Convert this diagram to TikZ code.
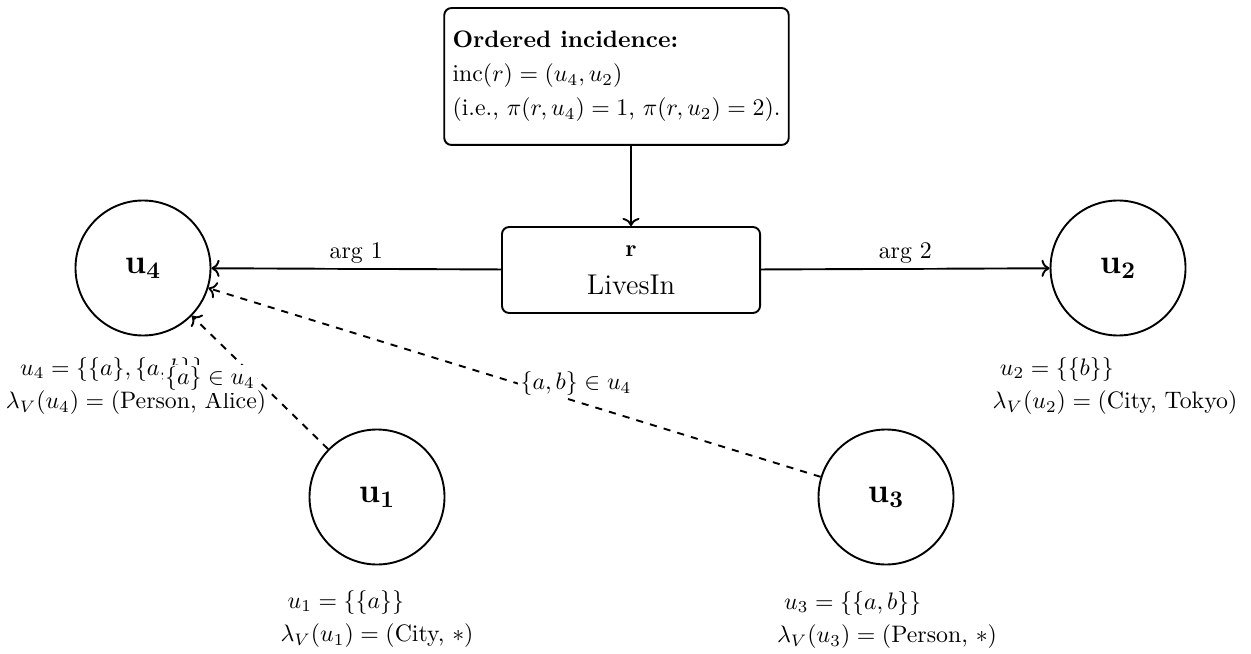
\documentclass[tikz,border=0pt]{standalone}
\usetikzlibrary{arrows.meta}
\begin{document}
\begin{tikzpicture}[x=0.42pt,y=-0.42pt,
  vcirc/.style={circle,draw,thick,minimum size=56.7pt,inner sep=0pt,font=\Large},
  relbox/.style={draw,thick,rounded corners=3pt,minimum width=108.4pt,minimum height=36.1pt,align=center},
  infobox/.style={draw,thick,rounded corners=3pt,minimum width=139.9pt,minimum height=57.5pt,inner xsep=3.5pt,align=left},
  vlbl/.style={align=left,inner sep=0pt},
  elbl/.style={fill=white,inner sep=1pt},
  conn/.style={thick,-{To[length=3.4pt,width=7.2pt]}},
  dconn/.style={thick,dashed,->}]
\useasboundingbox (0,0) rectangle (1251,654);

\node[vcirc] (u4) at (143,268) {$\mathbf{u_4}$};
\node[vcirc] (u2) at (1118,268) {$\mathbf{u_2}$};
\node[vcirc] (u1) at (377,497) {$\mathbf{u_1}$};
\node[vcirc] (u3) at (886,497) {$\mathbf{u_3}$};

\node[relbox] (r) at (631,270) {\textbf{r}\\[4pt]{\large LivesIn}};

\node[infobox] (info) at (616.5,76.5) {\textbf{Ordered incidence:}\\[2.3pt]
  $\mathrm{inc}(r) = (u_4, u_2)$\\[2.3pt]
  (i.e., $\pi(r,u_4) = 1$, $\pi(r,u_2) = 2$).};

\node[vlbl] (l4) at (136,386) {\hspace*{6pt}$u_4 = \{\{a\},\{a,b\}\}$\\[2pt] $\lambda_V(u_4) = ($Person, Alice$)$};
\node[vlbl] (l2) at (1115,386) {\hspace*{3pt}$u_2 = \{\{b\}\}$\\[2pt] $\lambda_V(u_2) = ($City, Tokyo$)$};
\node[vlbl] (l1) at (377,619) {\hspace*{3pt}$u_1 = \{\{a\}\}$\\[2pt] $\lambda_V(u_1) = ($City, $*)$};
\node[vlbl] (l3) at (887,620) {\hspace*{3pt}$u_3 = \{\{a,b\}\}$\\[2pt] $\lambda_V(u_3) = ($Person, $*)$};

\draw[conn] (info.south -| r.north) -- (r.north);
\draw[conn] (r) -- node[above,inner sep=2pt,fill=white] (a1) {arg 1} (u4);
\draw[conn] (r) -- node[above,inner sep=2pt,fill=white] (a2) {arg 2} (u2);
\draw[dconn] (u1) -- (u4);
\draw[dconn] (u3) -- (u4);
\node[elbl] (e1) at (210,379) {$\{a\} \in u_4$};
\node[elbl] (e3) at (576,384) {$\{a,b\} \in u_4$};
\end{tikzpicture}
\end{document}
